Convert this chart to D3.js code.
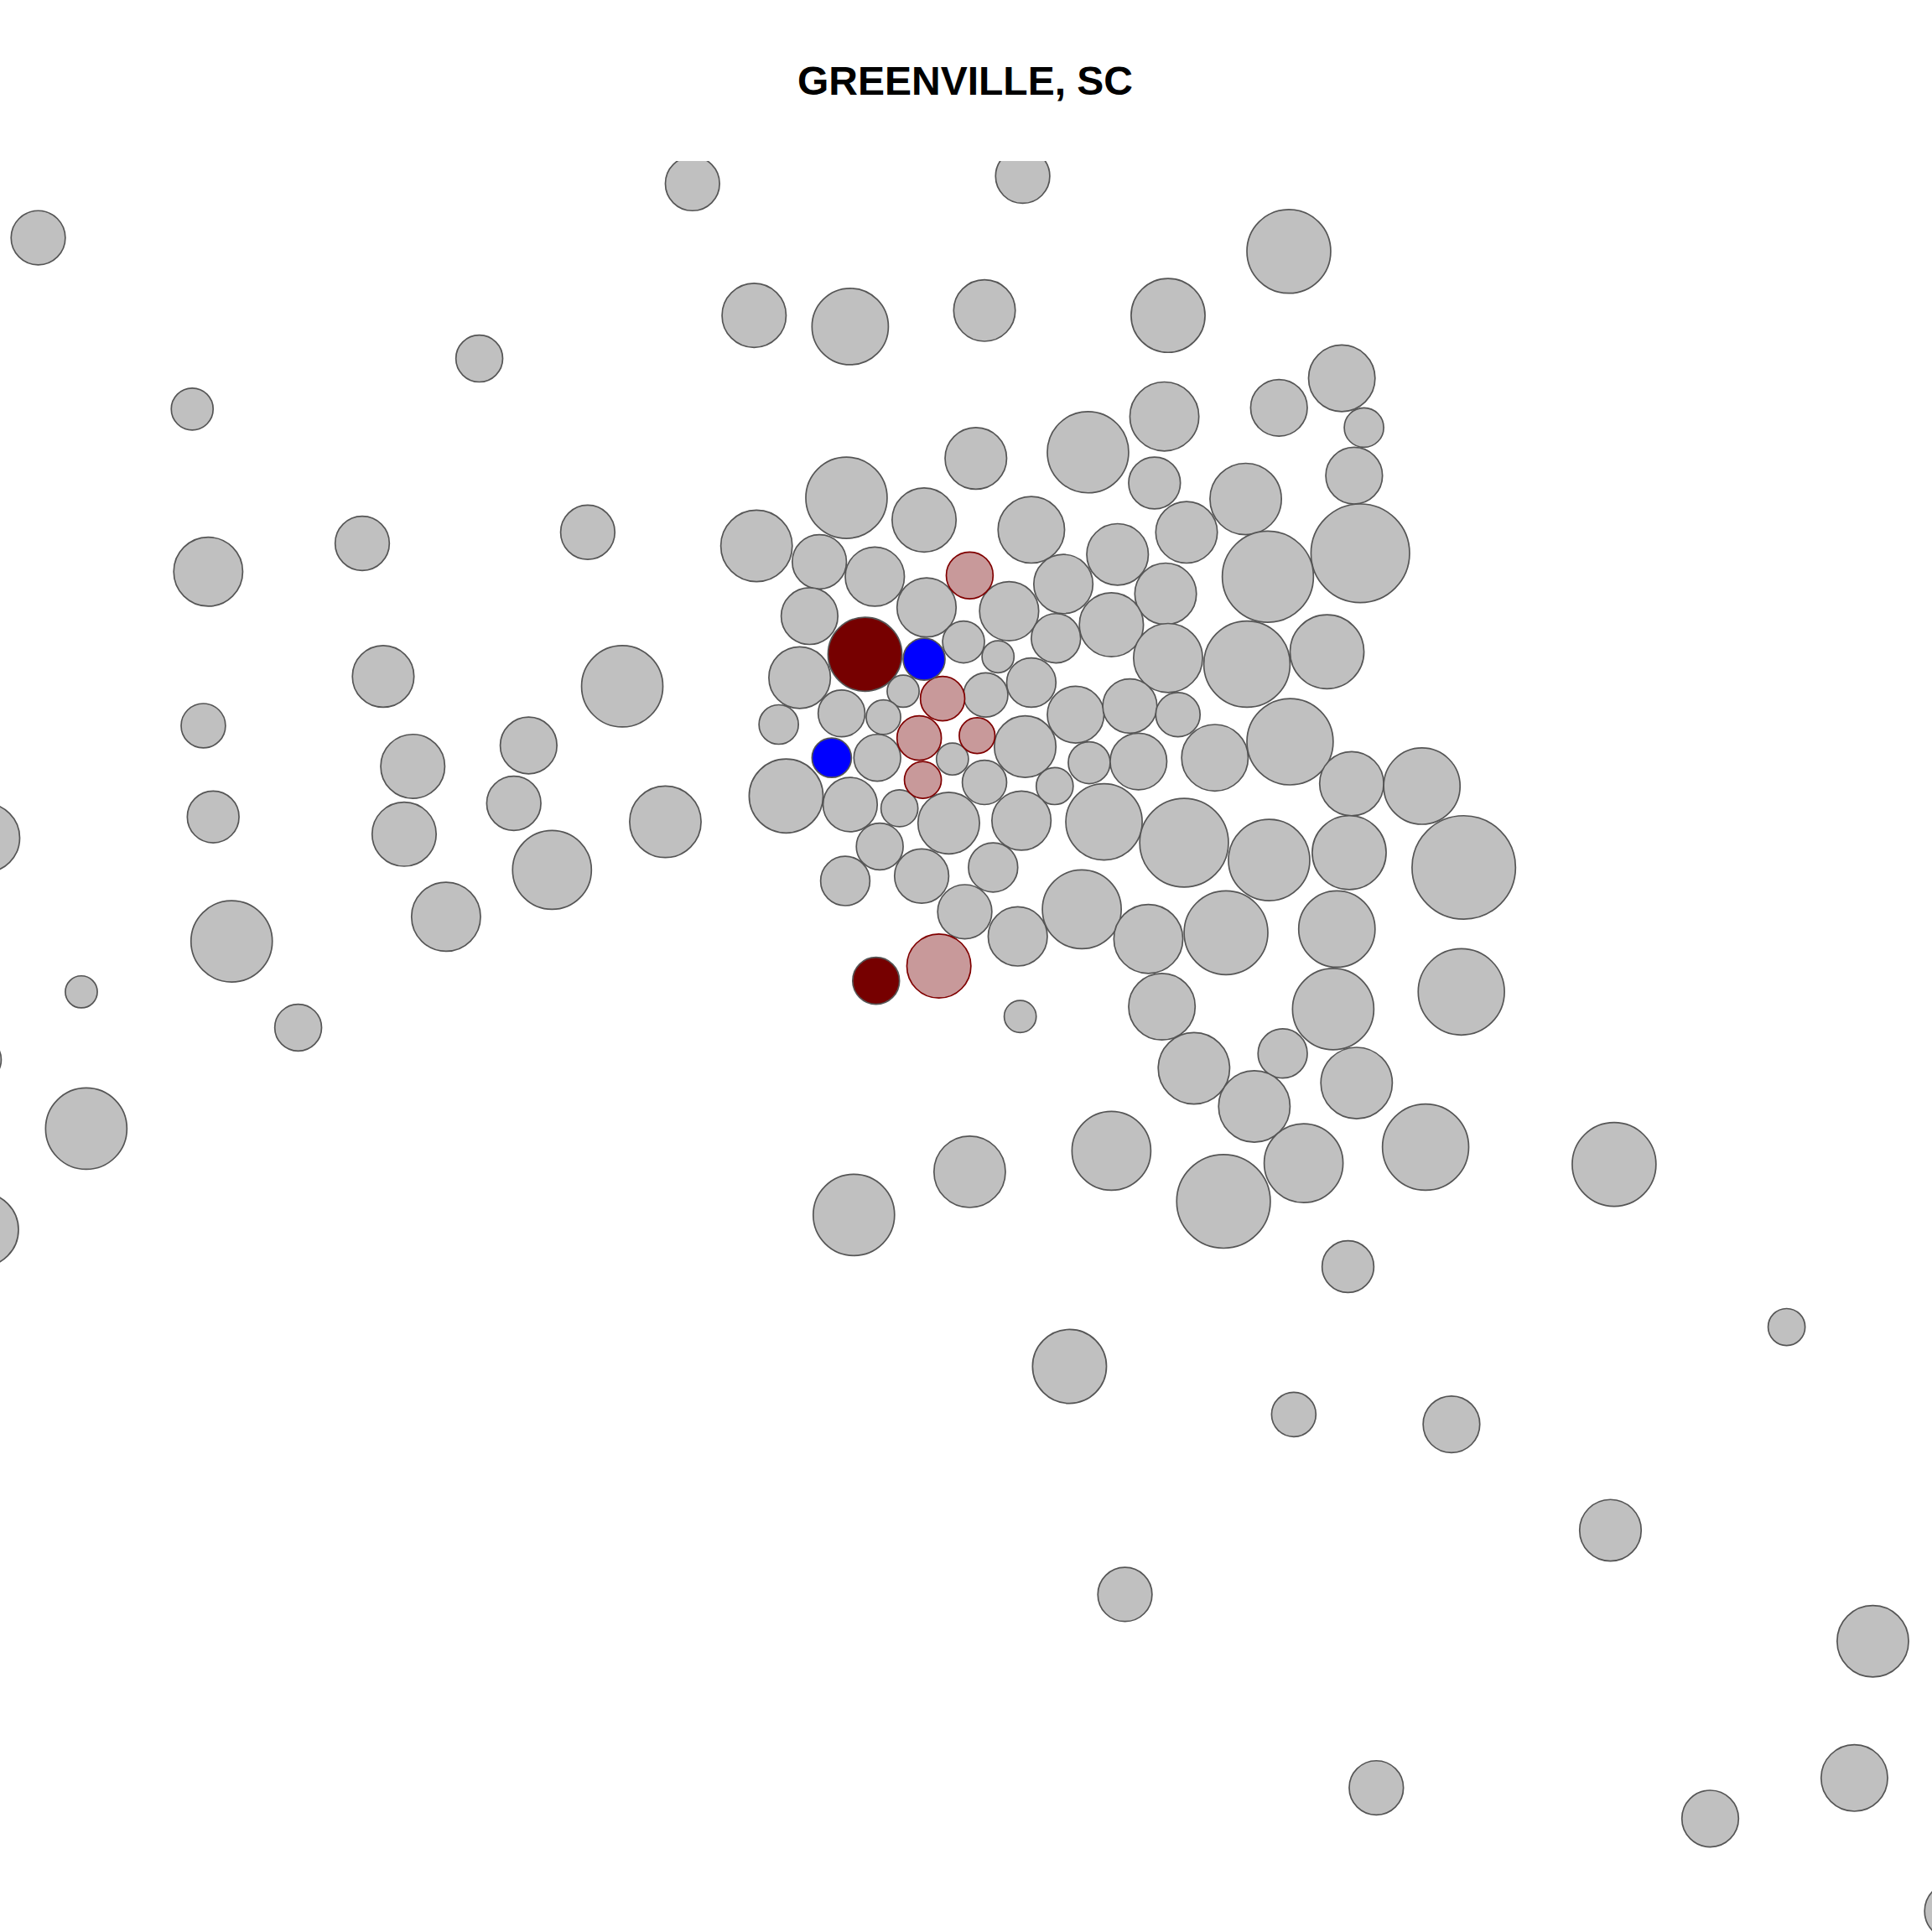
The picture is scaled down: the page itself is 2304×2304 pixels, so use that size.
<!DOCTYPE html>
<html><head><meta charset="utf-8">
<script src="https://cdn.jsdelivr.net/npm/d3@7"></script>
<style>html,body{margin:0;padding:0;background:#fff;}</style>
</head><body>
<script>
// Map units (projected easting / northing-down grid) and bubble size units
const title = "GREENVILLE, SC";
const grayPoints = [
[31,193,22],[562,149,22],[830,143,22],[1046,204,34],[612,256,26],[690,265,31],[799,252,25],[948,256,30],[389,291,19],[156,332,17],
[1089,307,27],[1038,331,23],[945,338,28],[1107,347,16],[792,372,25],[883,367,33],[1099,386,23],[937,392,21],[1011,405,29],[687,404,33],
[750,422,26],[837,430,27],[963,432,25],[614,443,29],[665,456,22],[1104,449,40],[477,432,22],[294,441,22],[169,464,28],[907,450,25],
[1029,468,37],[710,468,24],[863,474,24],[946,482,25],[752,493,24],[819,496,24],[657,500,23],[902,507,26],[857,518,20],[782,521,17],
[810,533,13],[948,534,28],[1012,539,35],[1077,529,30],[649,550,25],[311,549,25],[505,557,33],[837,554,20],[733,561,13],[800,564,18],
[683,579,19],[717,582,14],[873,580,23],[917,573,22],[956,580,18],[165,589,18],[632,588,16],[1047,602,35],[832,606,25],[429,605,23],
[335,622,26],[712,615,19],[773,616,13],[884,619,17],[924,618,23],[986,615,27],[1097,636,26],[1154,638,31],[799,635,18],[856,638,15],
[638,646,30],[690,653,22],[730,656,15],[417,652,22],[173,663,21],[-12,680,28],[540,667,29],[328,677,26],[770,668,25],[829,666,24],
[896,667,31],[961,684,36],[1030,698,33],[1095,692,30],[1188,704,42],[448,706,32],[714,687,19],[686,715,20],[748,711,22],[806,704,20],
[878,738,32],[783,740,22],[362,744,28],[188,764,33],[932,762,28],[995,757,34],[1085,754,31],[826,760,24],[1186,805,35],[66,805,13],
[242,834,19],[828,825,13],[943,817,27],[1082,819,33],[-17,860,18],[70,916,33],[969,867,29],[1041,855,20],[1101,879,29],[1018,898,29],
[-15,998,30],[902,934,32],[787,951,29],[1058,944,32],[1157,931,35],[1310,945,34],[693,986,33],[993,975,38],[1094,1028,21],[1450,1077,15],
[868,1109,30],[1050,1148,18],[1178,1156,23],[1307,1242,25],[913,1294,22],[1520,1332,29],[1117,1451,22],[1505,1443,27],[1388,1476,23],[1585,1551,23]
];
const pinkPoints = [[787,467,19],[765,567,18],[746,599,18],[793,597,14.5],[749,633,15],[762,784,26]];
const darkPoints = [[702,531,30],[711,796,19]];
const bluePoints = [[750,535,17],[675,615,16]];
const groups = ["other","light","dark","blue"];

const W = 2304, H = 2304;
const x = d3.scaleLinear().domain([0,1568]).range([0,W]);
const y = d3.scaleLinear().domain([0,1568]).range([0,H]);
const r = d3.scaleLinear().domain([0,1568]).range([0,W]);
const fill = d3.scaleOrdinal().domain(groups).range(["#c0c0c0","#c8999a","#760000","#0000ff"]);
const stroke = d3.scaleOrdinal().domain(groups).range(["#555555","#800000","#555555","#555555"]);

const data = [];
grayPoints.forEach(p=>data.push({x:p[0],y:p[1],s:p[2],g:"other"}));
pinkPoints.forEach(p=>data.push({x:p[0],y:p[1],s:p[2],g:"light"}));
darkPoints.forEach(p=>data.push({x:p[0],y:p[1],s:p[2],g:"dark"}));
bluePoints.forEach(p=>data.push({x:p[0],y:p[1],s:p[2],g:"blue"}));

const svg = d3.select("body").append("svg").attr("width",W).attr("height",H);
svg.append("rect").attr("width",W).attr("height",H).attr("fill","#fff");
svg.append("defs").append("clipPath").attr("id","clip")
  .append("rect").attr("x",0).attr("y",192).attr("width",W).attr("height",H-192);

svg.append("g").attr("clip-path","url(#clip)")
  .selectAll("circle").data(data).join("circle")
  .attr("cx",d=>x(d.x)).attr("cy",d=>y(d.y)).attr("r",d=>r(d.s))
  .attr("fill",d=>fill(d.g)).attr("stroke",d=>stroke(d.g)).attr("stroke-width",1.7);

svg.append("text").attr("x",1151).attr("y",113).attr("text-anchor","middle")
  .attr("font-family","Liberation Sans, Arial, sans-serif").attr("font-weight","bold")
  .attr("font-size",48).attr("fill","#000").text(title);
</script>
</body></html>
